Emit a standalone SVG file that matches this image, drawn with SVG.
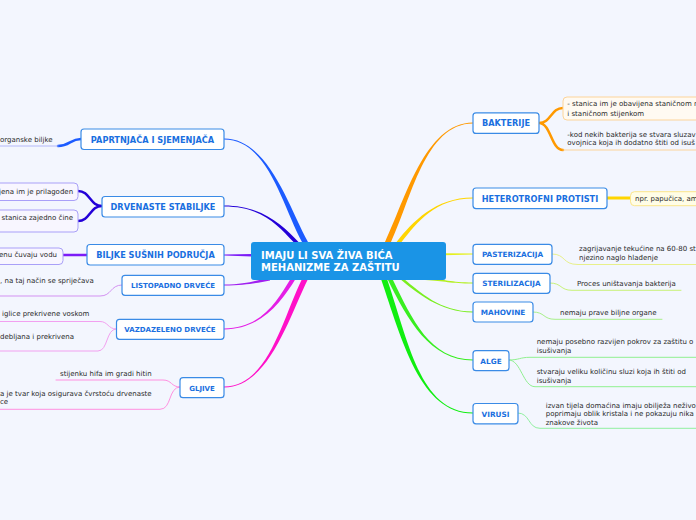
<svg xmlns="http://www.w3.org/2000/svg" width="696" height="520" viewBox="0 0 696 520">
<style>
.n rect{fill:#fff;stroke:#3a8be6;stroke-width:1.2}
.n text{font-family:"DejaVu Sans",Verdana,sans-serif;font-weight:bold;font-size:8.2px;fill:#1a6fe0;text-anchor:middle}
.n text.s{font-size:7px}
.n text.m{font-size:7.3px}
.l text{font-family:"DejaVu Sans",Verdana,sans-serif;font-size:7px;fill:#2a2a2a}
.c{fill:none;stroke-linecap:round}
</style>
<rect width="696" height="520" fill="#f3f6fe"/>
<g id="connectors">
<path d="M224,138.5 C268,138.5 288,205 308,242 L302,242 C282,205 268,139.5 224,139.5 Z" fill="#1c5bff"/>
<path d="M224,205.5 C262,205.5 282.5,225 298.5,242 L293.5,242 C277.5,225 262,206.5 224,206.5 Z" fill="#2300d8"/>
<path d="M224,254.6 L252,254 L252,256.4 L224,255.6 Z" fill="#7c1cf7"/>
<path d="M224,284.5 C248,284.5 258,279.5 270,277.5 L270,280.5 C258,282.5 248,285.5 224,285.5 Z" fill="#a020f0"/>
<path d="M224,328.5 C262,328.5 277.5,300 290.5,279 L295.5,279 C282.5,300 262,329.5 224,329.5 Z" fill="#e41ee6"/>
<path d="M224,386.5 C268,386.5 282,320 302,279 L308,279 C288,320 268,387.5 224,387.5 Z" fill="#ff10c8"/>
<path d="M473,122.5 C425,122.5 405,200 385,242 L391,242 C411,200 425,123.5 473,123.5 Z" fill="#ff9900"/>
<path d="M473,197.5 C435,197.5 412.5,222 396.5,242 L401.5,242 C417.5,222 435,198.5 473,198.5 Z" fill="#ffd500"/>
<path d="M444,253.2 L473,253.6 L473,254.6 L444,255.2 Z" fill="#e5f020"/>
<path d="M473,282.5 C450,282.5 445,279 425,278 L425,280 C445,281 450,283.5 473,283.5 Z" fill="#b2ef1e"/>
<path d="M473,312.5 C440,312.5 416,292 400,279 L404,279 C420,292 440,311.5 473,311.5 Z" fill="#7aee20"/>
<path d="M473,360.5 C430,360.5 407.5,320 387.5,279 L392.5,279 C412.5,320 430,359.5 473,359.5 Z" fill="#38ee20"/>
<path d="M473,413.5 C420,413.5 402,340 381,279 L387,279 C408,340 420,412.5 473,412.5 Z" fill="#10ee10"/>
<path class="c" d="M81,139 C70,139 70,146 58,146" stroke="#1c5bff" stroke-width="2.5"/>
<path class="c" d="M0,146 L58,146" stroke="#b4b8f8" stroke-width="1"/>
<path class="c" d="M102,206 C90,206 90,191 78,191 M102,206 C90,206 90,221 78,221" stroke="#2300d8" stroke-width="2.5"/>
<path class="c" d="M87,255 L63,255" stroke="#7c1cf7" stroke-width="2.5"/>
<path class="c" d="M-2,296 L100,296 C112,296 110,285 122,285" stroke="#d391f2" stroke-width="1"/>
<path class="c" d="M-2,321.5 L100,321.5 C108,321.5 108,329 116,329 M-2,351 L98,351 C108,351 106,329 116,329" stroke="#f2a0f0" stroke-width="1"/>
<path class="c" d="M56,380 L163,380 C172,380 171,387 180,387 M-2,409.3 L160,409.3 C172,409.3 168,387 180,387" stroke="#ff90e0" stroke-width="1"/>
<path class="c" d="M539,123 C551,123 551,108 563,108 M539,123 C551,123 551,150 563,150" stroke="#ff9900" stroke-width="2.5"/>
<path class="c" d="M563,150 L700,150" stroke="#fcd49a" stroke-width="1"/>
<path class="c" d="M607,198 L630,198" stroke="#ffd500" stroke-width="3"/>
<path class="c" d="M552,254 C566,254 562,264.5 578,264.5 L700,264.5" stroke="#e8f08a" stroke-width="1"/>
<path class="c" d="M550,283 C562,283 560,290.3 572,290.3 L681,290.3" stroke="#c8f27a" stroke-width="1"/>
<path class="c" d="M533,312 C545,312 543,319.3 555,319.3 L662,319.3" stroke="#a8f08a" stroke-width="1"/>
<path class="c" d="M509,360 C519,360 520,357.3 530,357.3 L700,357.3 M509,360 C521,360 523,386.7 535,386.7 L700,386.7" stroke="#90f090" stroke-width="1"/>
<path class="c" d="M518,413 C530,413 528,428.3 540,428.3 L700,428.3" stroke="#90f0a0" stroke-width="1"/>
</g>
<g id="center">
<rect x="251" y="242" width="195" height="38" rx="3" fill="#1a94e6"/>
<text x="261" y="259.4" font-family="DejaVu Sans,Verdana,sans-serif" font-weight="bold" font-size="10px" fill="#fff">IMAJU LI SVA ŽIVA BIĆA</text>
<text x="261" y="270.8" font-family="DejaVu Sans,Verdana,sans-serif" font-weight="bold" font-size="10px" fill="#fff">MEHANIZME ZA ZAŠTITU</text>
</g>
<g id="paprtnjaca" class="n"><rect x="81" y="129" width="143" height="20.5" rx="3"/><text x="152.5" y="142.5">PAPRTNJAČA I SJEMENJAČA</text></g>
<g id="drvenaste" class="n"><rect x="102" y="196.5" width="122" height="20.5" rx="3"/><text x="163" y="210">DRVENASTE STABILJKE</text></g>
<g id="biljke" class="n"><rect x="87" y="244.5" width="137" height="20.5" rx="3"/><text x="155.5" y="258">BILJKE SUŠNIH PODRUČJA</text></g>
<g id="listopadno" class="n"><rect x="122" y="275.3" width="102" height="20" rx="3"/><text class="s" x="173" y="288">LISTOPADNO DRVEĆE</text></g>
<g id="vazdazeleno" class="n"><rect x="116.5" y="319.3" width="107.5" height="20" rx="3"/><text class="s" x="170" y="332">VAZDAZELENO DRVEĆE</text></g>
<g id="gljive" class="n"><rect x="180" y="377.7" width="44" height="20" rx="3"/><text class="s" x="202" y="390.5">GLJIVE</text></g>
<g id="bakterije" class="n"><rect x="473" y="112.8" width="66" height="20.6" rx="3"/><text x="506" y="126.3">BAKTERIJE</text></g>
<g id="heterotrofni" class="n"><rect x="473" y="188" width="134" height="20.6" rx="3"/><text x="540" y="201.5">HETEROTROFNI PROTISTI</text></g>
<g id="pasterizacija" class="n"><rect x="473" y="244.3" width="79" height="20" rx="3"/><text class="m" x="512.5" y="257.2">PASTERIZACIJA</text></g>
<g id="sterilizacija" class="n"><rect x="473" y="273.3" width="77" height="20" rx="3"/><text class="m" x="511.5" y="286.2">STERILIZACIJA</text></g>
<g id="mahovine" class="n"><rect x="473" y="302" width="60" height="20" rx="3"/><text class="m" x="503" y="314.9">MAHOVINE</text></g>
<g id="alge" class="n"><rect x="473" y="350.7" width="36" height="20" rx="3"/><text class="m" x="491" y="363.6">ALGE</text></g>
<g id="virusi" class="n"><rect x="473" y="403.5" width="45" height="20.3" rx="3"/><text class="m" x="495.5" y="416.5">VIRUSI</text></g>
<g id="leaf-paprt" class="l"><text x="0" y="142">organske biljke</text></g>
<g id="leaf-drv1" class="l"><rect x="-10" y="183" width="88" height="17.5" rx="4" fill="#f8f6ff" stroke="#a9a0f8"/><text x="-1" y="194.3">jena im je prilagođen</text></g>
<g id="leaf-drv2" class="l"><rect x="-10" y="210" width="88" height="22" rx="4" fill="#f8f6ff" stroke="#a9a0f8"/><text x="1.5" y="219.5">stanica zajedno čine</text></g>
<g id="leaf-biljke" class="l"><rect x="-10" y="248" width="73" height="16.5" rx="4" fill="#f8f6ff" stroke="#a9a0f8"/><text x="-1" y="257">enu čuvaju vodu</text></g>
<g id="leaf-listop" class="l"><text x="0" y="283">, na taj način se spriječava</text></g>
<g id="leaf-vazd1" class="l"><text x="2" y="316.3"> iglice prekrivene voskom</text></g>
<g id="leaf-vazd2" class="l"><text x="0" y="338.5">debljana i prekrivena</text></g>
<g id="leaf-glj1" class="l"><text x="60" y="376">stijenku hifa im gradi hitin</text></g>
<g id="leaf-glj2" class="l"><text x="0" y="396">a je tvar koja osigurava čvrstoću drvenaste</text><text x="0" y="403.5">ce</text></g>
<g id="leaf-bakt1" class="l"><rect x="563" y="97" width="150" height="23" rx="4" fill="#fffaf2" stroke="#fcd49a"/><text x="567.3" y="106">- stanica im je obavijena staničnom m</text><text x="567.3" y="115.5">i staničnom stijenkom</text></g>
<g id="leaf-bakt2" class="l"><text x="567.3" y="136.5">-kod nekih bakterija se stvara sluzav</text><text x="567.3" y="145">ovojnica koja ih dodatno štiti od isuš</text></g>
<g id="leaf-protisti" class="l"><rect x="630.5" y="191.7" width="80" height="14" rx="4" fill="#fffde6" stroke="#fbe58a"/><text x="635" y="200.8">npr. papučica, am</text></g>
<g id="leaf-paster" class="l"><text x="579" y="251">zagrijavanje tekućine na 60-80 st</text><text x="579" y="260.3">njezino naglo hlađenje</text></g>
<g id="leaf-steril" class="l"><text x="577" y="285.5">Proces uništavanja bakterija</text></g>
<g id="leaf-mahov" class="l"><text x="560" y="314.5">nemaju prave biljne organe</text></g>
<g id="leaf-alge1" class="l"><text x="536.7" y="344.3">nemaju posebno razvijen pokrov za zaštitu o</text><text x="536.7" y="352.8">isušivanja</text></g>
<g id="leaf-alge2" class="l"><text x="536.7" y="374.3">stvaraju veliku količinu sluzi koja ih štiti od</text><text x="536.7" y="383">isušivanja</text></g>
<g id="leaf-virusi" class="l"><text x="545.7" y="407.5">izvan tijela domaćina imaju obilježa neživo</text><text x="545.7" y="416.2">poprimaju oblik kristala i ne pokazuju nika</text><text x="545.7" y="424.7">znakove života</text></g>
</svg>
